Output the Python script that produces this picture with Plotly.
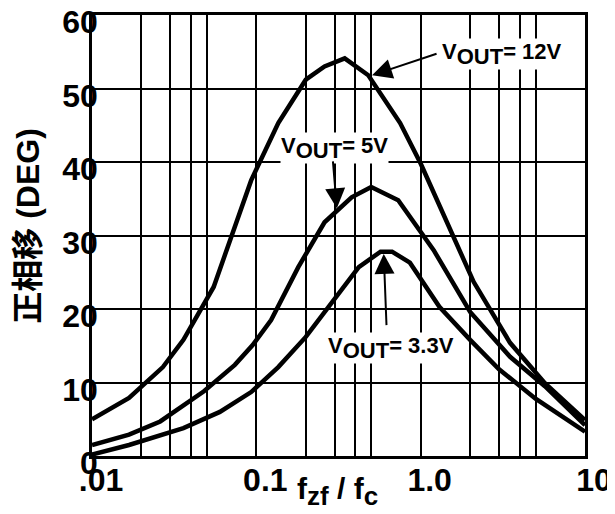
import math
import plotly.graph_objects as go

# ---- data ----
x_12v = [0.01, 0.0168, 0.027, 0.036, 0.055, 0.093, 0.136, 0.2, 0.26, 0.345, 0.48, 0.75, 1.0, 2.1, 3.5, 5.7, 10]
y_12v = [5.0, 7.9, 12.1, 15.8, 23.0, 37.5, 45.3, 51.2, 53.0, 54.1, 51.8, 45.3, 39.8, 23.7, 15.4, 9.9, 4.9]

x_5v = [0.01, 0.0168, 0.026, 0.048, 0.074, 0.095, 0.123, 0.18, 0.26, 0.38, 0.5, 0.73, 1.2, 2.0, 3.5, 5.7, 10]
y_5v = [1.5, 2.9, 4.7, 8.8, 12.4, 15.1, 18.5, 25.7, 31.8, 35.2, 36.6, 34.8, 28.0, 19.6, 13.5, 9.5, 4.2]

x_33v = [0.01, 0.0168, 0.036, 0.06, 0.093, 0.136, 0.2, 0.29, 0.42, 0.57, 0.67, 0.86, 1.3, 2.0, 3.0, 5.0, 10]
y_33v = [0.2, 1.5, 3.8, 6.0, 8.7, 12.1, 16.2, 21.0, 25.7, 27.8, 27.8, 26.3, 20.3, 15.8, 11.8, 7.8, 3.3]

x_tickvals = [0.01, 0.1, 1, 10]
x_ticktext = [".01", "0.1", "1.0", "10"]
x_minor_vals = [0.02, 0.03, 0.04, 0.05, 0.2, 0.3, 0.4, 0.5, 2, 3, 4, 5]
y_tickvals = [0, 10, 20, 30, 40, 50, 60]

FONT = "Liberation Sans, Arial, Noto Sans CJK SC, sans-serif"
L = math.log10  # annotation coordinates on a log axis are given in log10 units

fig = go.Figure()
line_style = dict(color="black", width=4.5)
for xs, ys, name in [(x_12v, y_12v, "12V"), (x_5v, y_5v, "5V"), (x_33v, y_33v, "3.3V")]:
    fig.add_trace(go.Scatter(x=xs, y=ys, mode="lines", line=line_style, name=name, showlegend=False))

# page body has an 8px default margin, so the figure is sized to fit the window
fig.update_layout(
    width=607, height=506,
    margin=dict(l=84, r=30, t=7, b=58, autoexpand=False),
    paper_bgcolor="white", plot_bgcolor="white",
    font=dict(family=FONT, color="black"),
)
fig.update_xaxes(
    type="log", range=[-2, 1], automargin=False,
    tickmode="array", tickvals=x_tickvals, ticktext=x_ticktext,
    tickfont=dict(size=32, family=FONT, weight="bold"),
    ticks="", ticklabelstandoff=-6, ticklabelshift=9, ticklabeloverflow="allow",
    showgrid=True, gridcolor="black", gridwidth=2,
    minor=dict(tickmode="array", tickvals=x_minor_vals, showgrid=True, gridcolor="black", gridwidth=2, ticks=""),
    showline=True, linecolor="black", linewidth=2.5, mirror=True,
    zeroline=False,
)
fig.update_yaxes(
    range=[0, 60], tickmode="array", tickvals=y_tickvals, automargin=False,
    tickfont=dict(size=32, family=FONT, weight="bold"),
    ticks="", ticklabelstandoff=-15, ticklabelshift=7, ticklabeloverflow="allow",
    showgrid=True, gridcolor="black", gridwidth=2,
    showline=True, linecolor="black", linewidth=2.5, mirror=True,
    zeroline=False,
)

ann_font = dict(size=22, family=FONT, color="black", weight="bold")
def vout(v):
    return "V<sub><span style='font-size:22px'>OUT</span></sub>= " + v

# labels
fig.add_annotation(x=L(3.13), y=54.7, xref="x", yref="y", text=vout("12V"), showarrow=False,
                   font=ann_font, bgcolor="white", xanchor="center", yanchor="middle", borderpad=0)
fig.add_annotation(x=L(0.30), y=41.9, xref="x", yref="y", text=vout("5V"), showarrow=False,
                   font=ann_font, bgcolor="white", xanchor="center", yanchor="middle", borderpad=0)
fig.add_annotation(x=L(0.66), y=14.7, xref="x", yref="y", text=vout("3.3V"), showarrow=False,
                   font=ann_font, bgcolor="white", xanchor="center", yanchor="middle", borderpad=0)

# arrows
arrow_style = dict(showarrow=True, arrowhead=2, arrowsize=2.0, arrowwidth=2, arrowcolor="black",
                   xref="x", yref="y", axref="x", ayref="y", text="")
fig.add_annotation(x=L(0.506), y=51.8, ax=L(1.276), ay=54.8, **arrow_style)
fig.add_annotation(x=L(0.309), y=33.7, ax=L(0.292), ay=40.3, **arrow_style)
fig.add_annotation(x=L(0.596), y=27.5, ax=L(0.62), ay=17.6, **arrow_style)

# axis titles
fig.add_annotation(x=-0.13, y=0.522, xref="paper", yref="paper", text="正相移 (DEG)", textangle=-90,
                   showarrow=False, font=dict(size=32, family=FONT, color="black", weight="bold"),
                   xanchor="center", yanchor="middle")
fig.add_annotation(x=0.497, y=-0.08, xref="paper", yref="paper",
                   text="f<sub><span style='font-size:26px'>zf</span></sub> / f<sub><span style='font-size:26px'>c</span></sub>",
                   showarrow=False, font=dict(size=30, family=FONT, color="black", weight="bold"),
                   xanchor="center", yanchor="middle")

fig.write_html("out.html")
